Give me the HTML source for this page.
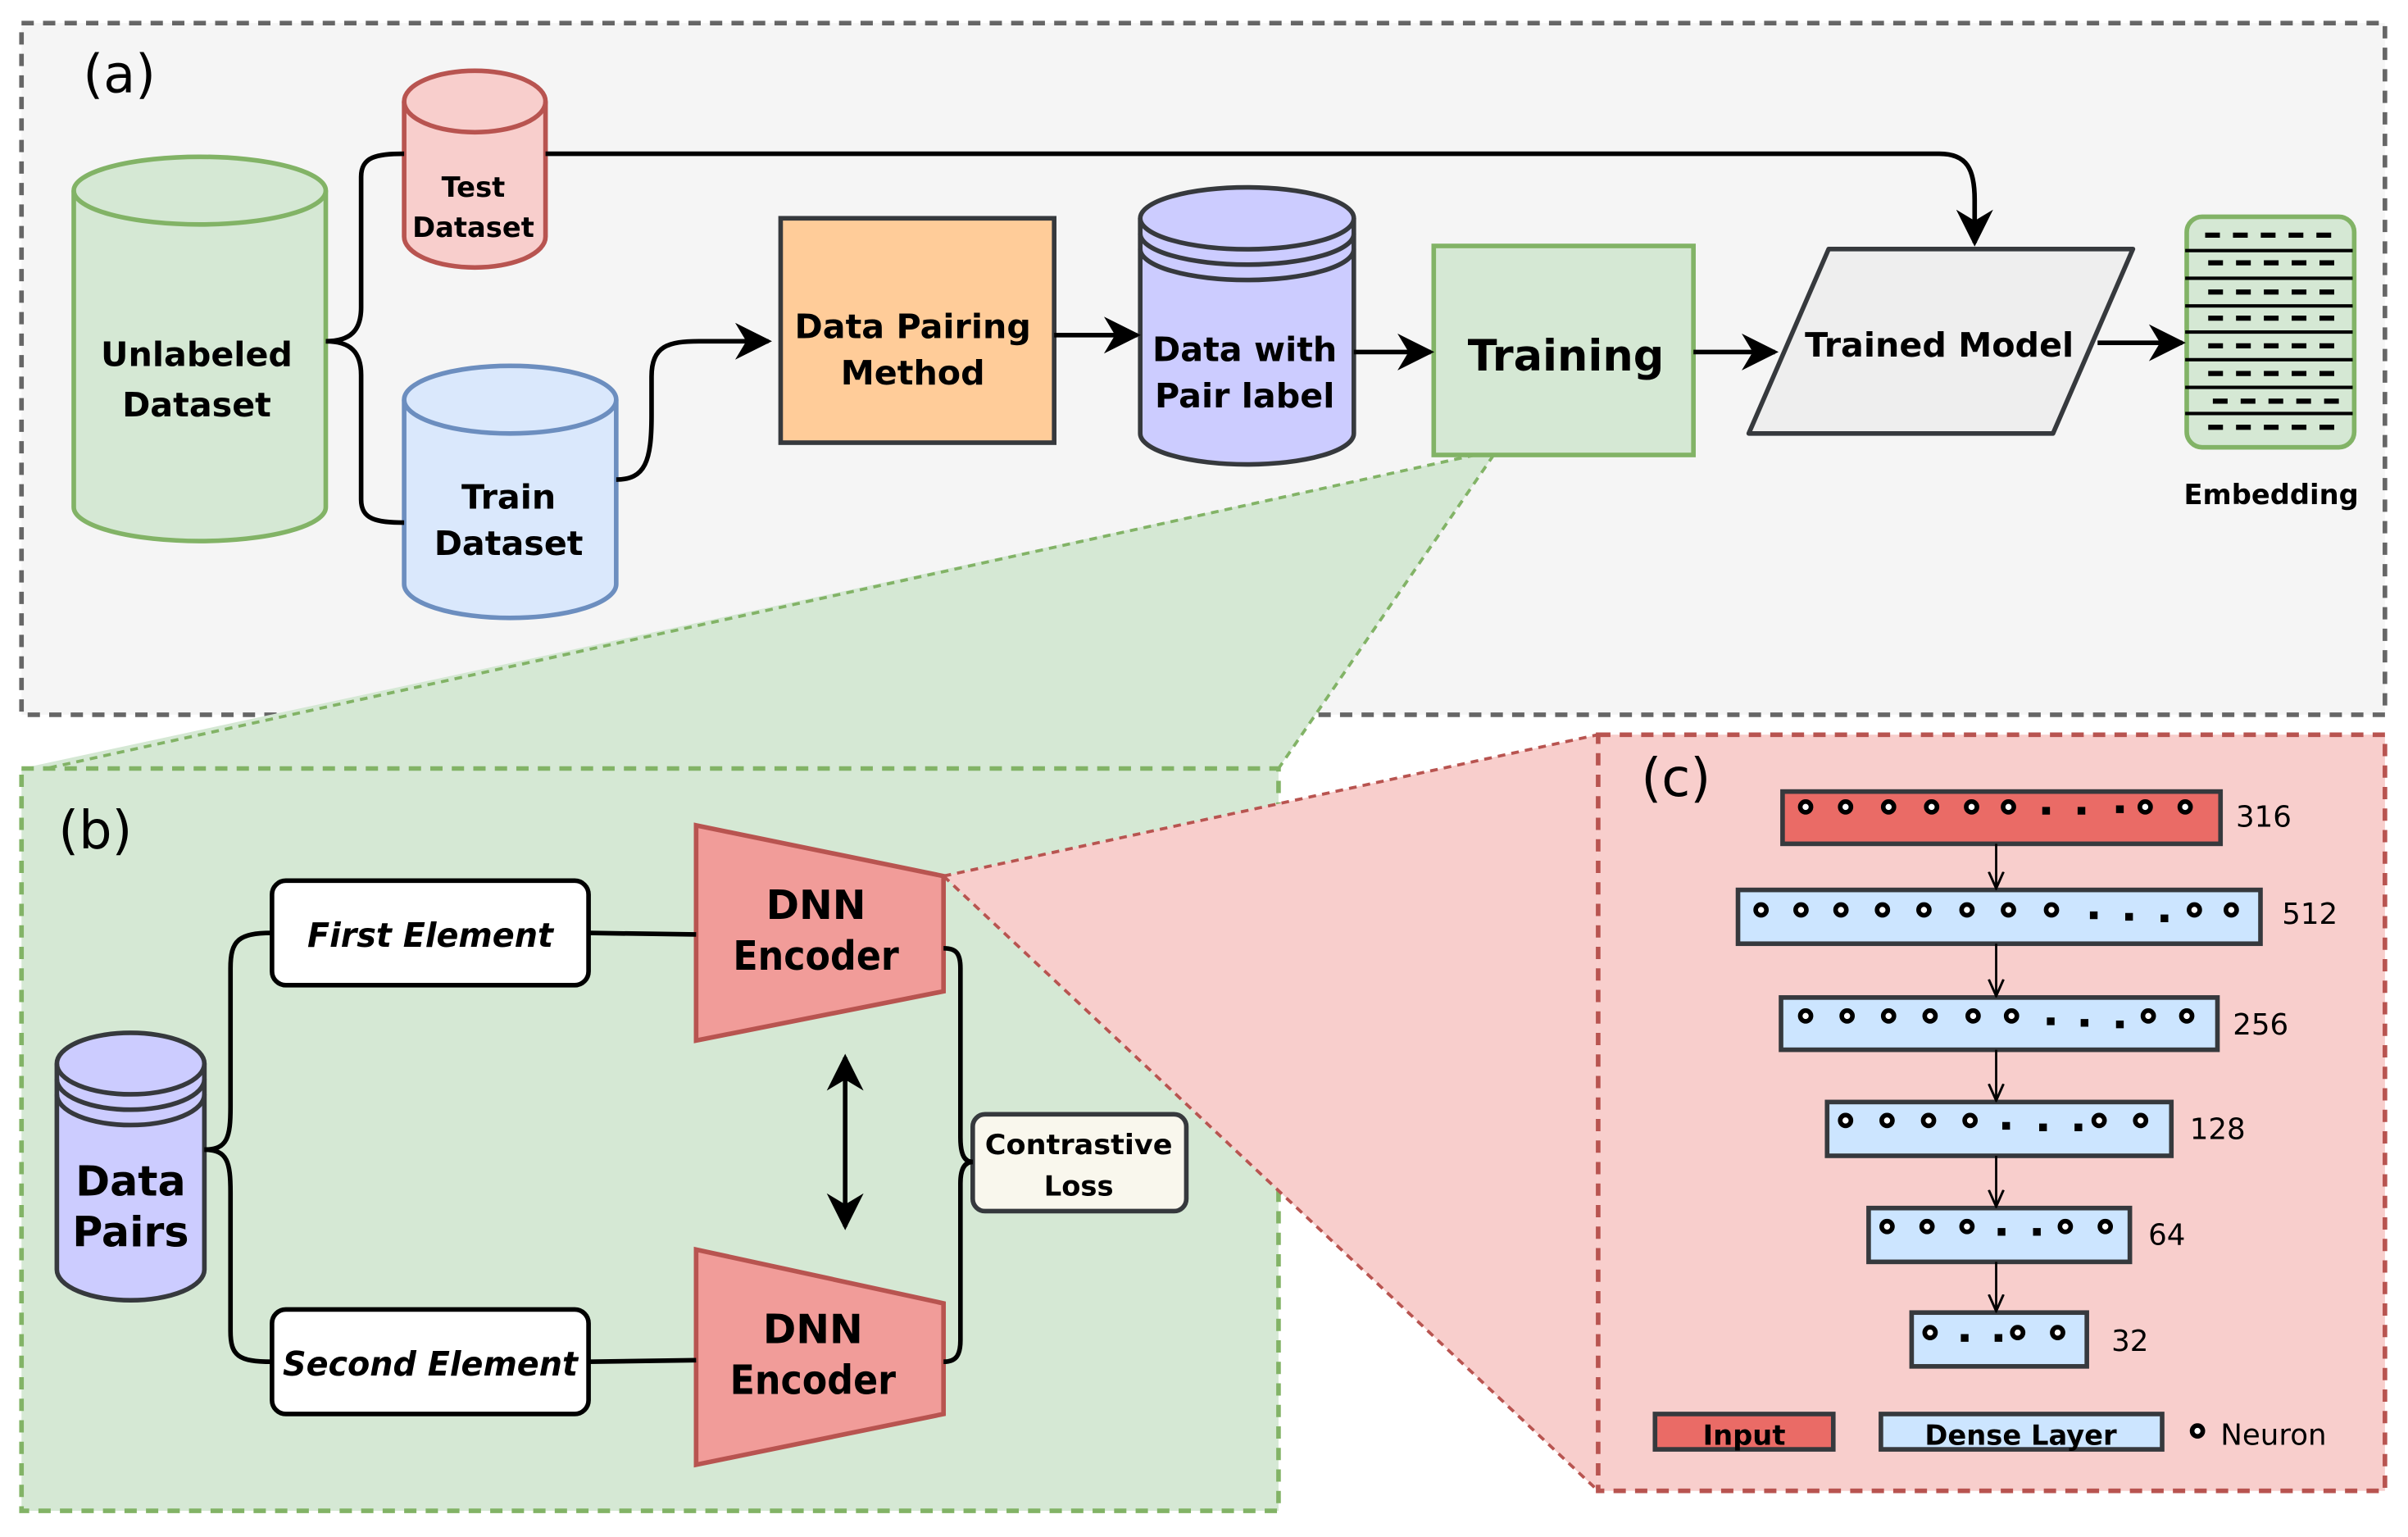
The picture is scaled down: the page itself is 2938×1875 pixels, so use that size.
<!DOCTYPE html>
<html><head><meta charset="utf-8"><style>html,body{margin:0;padding:0;background:#fff}svg{display:block}text{font-family:"DejaVu Sans","Liberation Sans",sans-serif}</style></head><body>
<svg width="2938" height="1875" viewBox="0 0 1567 1000" xmlns="http://www.w3.org/2000/svg">
<defs>
<marker id="ahb" viewBox="0 0 10 10" markerWidth="28" markerHeight="24" refX="9" refY="5" orient="auto-start-reverse" markerUnits="userSpaceOnUse"><path d="M0,0 L10,5 L0,10 L3,5z" fill="#000"/></marker>
<marker id="ao" viewBox="0 0 10 10" markerWidth="12" markerHeight="12" refX="9" refY="5" orient="auto" markerUnits="userSpaceOnUse"><path d="M0,1 L9,5 L0,9" fill="none" stroke="#000" stroke-width="1.3"/></marker>
</defs>
<rect x="14" y="15" width="1538" height="450" fill="#f5f5f5" stroke="#666" stroke-width="3" stroke-dasharray="8,6"/>
<text x="54" y="60" font-size="34">(a)</text>
<polygon points="960,296 972,296 832,500 14,500" fill="#d5e8d4"/>
<line x1="972" y1="296" x2="832" y2="500" stroke="#82b366" stroke-width="2" stroke-dasharray="5,4"/>
<line x1="960" y1="296" x2="30" y2="500" stroke="#82b366" stroke-width="2" stroke-dasharray="5,4"/>
<rect x="14" y="500" width="818" height="483" fill="#d5e8d4" stroke="#82b366" stroke-width="3" stroke-dasharray="8,6"/>
<polygon points="614,570 1040,478 1040,970" fill="#f8cecc"/>
<line x1="614" y1="570" x2="1040" y2="478" stroke="#b85450" stroke-width="2" stroke-dasharray="5,4"/>
<line x1="614" y1="570" x2="1040" y2="970" stroke="#b85450" stroke-width="2" stroke-dasharray="5,4"/>
<rect x="1040" y="478" width="512" height="492" fill="#f8cecc" stroke="#b85450" stroke-width="3" stroke-dasharray="8,6"/>
<text x="1068" y="518" font-size="34">(c)</text>
<text x="38" y="552" font-size="34">(b)</text>

<g stroke-width="3">
<path d="M48,124 A82,22 0 0 1 212,124 L212,330 A82,22 0 0 1 48,330 Z" fill="#d5e8d4" stroke="#82b366"/>
<path d="M48,124 A82,22 0 0 0 212,124" fill="none" stroke="#82b366"/>
<path d="M263,66 A46,20 0 0 1 355,66 L355,154 A46,20 0 0 1 263,154 Z" fill="#f8cecc" stroke="#b85450"/>
<path d="M263,66 A46,20 0 0 0 355,66" fill="none" stroke="#b85450"/>
<path d="M263,260 A69,22 0 0 1 401,260 L401,380 A69,22 0 0 1 263,380 Z" fill="#dae8fc" stroke="#6c8ebf"/>
<path d="M263,260 A69,22 0 0 0 401,260" fill="none" stroke="#6c8ebf"/>
<rect x="508" y="142" width="178" height="146" fill="#ffcc99" stroke="#36393d"/>
<path d="M742,142 A69,20 0 0 1 881,142 L881,282 A69,20 0 0 1 742,282 Z" fill="#ccccff" stroke="#36393d"/>
<path d="M742,142 A69,20 0 0 0 881,142 M742,152 A69,20 0 0 0 881,152 M742,162 A69,20 0 0 0 881,162" fill="none" stroke="#36393d"/>
<rect x="933" y="160" width="169" height="136" fill="#d5e8d4" stroke="#82b366"/>
<polygon points="1190,162 1388,162 1336,282 1138,282" fill="#eeeeee" stroke="#36393d" stroke-linejoin="round"/>
<rect x="1423" y="141" width="109" height="150" rx="10" fill="#d5e8d4" stroke="#82b366"/>
</g>
<g stroke="#000" stroke-width="2.2">
<line x1="1422" y1="163" x2="1531" y2="163"/><line x1="1422" y1="181" x2="1531" y2="181"/><line x1="1422" y1="199" x2="1531" y2="199"/><line x1="1422" y1="216" x2="1531" y2="216"/><line x1="1422" y1="234" x2="1531" y2="234"/><line x1="1422" y1="252" x2="1531" y2="252"/><line x1="1422" y1="269" x2="1531" y2="269"/>
</g>
<g stroke="#000" stroke-width="3.3" stroke-dasharray="9.6,8.5">
<line x1="1435" y1="153" x2="1517" y2="153"/><line x1="1437" y1="171" x2="1519" y2="171"/><line x1="1437" y1="190" x2="1519" y2="190"/><line x1="1437" y1="207" x2="1519" y2="207"/><line x1="1437" y1="225" x2="1519" y2="225"/><line x1="1437" y1="243" x2="1519" y2="243"/><line x1="1440" y1="261" x2="1522" y2="261"/><line x1="1437" y1="278" x2="1519" y2="278"/>
</g>
<g font-weight="bold" text-anchor="middle" fill="#000">
<text x="128" y="238" font-size="22">Unlabeled</text><text x="128" y="271" font-size="22">Dataset</text>
<text x="308" y="128" font-size="18">Test</text><text x="308" y="154" font-size="18">Dataset</text>
<text x="331" y="331" font-size="22">Train</text><text x="331" y="361" font-size="22">Dataset</text>
<text x="594" y="220" font-size="22">Data Pairing</text><text x="594" y="250" font-size="22">Method</text>
<text x="810" y="235" font-size="22">Data with</text><text x="810" y="265" font-size="22">Pair label</text>
<text x="1019" y="241" font-size="28">Training</text>
<text x="1262" y="232" font-size="22">Trained Model</text>
<text x="1478" y="328" font-size="18">Embedding</text>
</g>
<g fill="none" stroke="#000" stroke-width="3">
<path d="M212,222 C228,222 235,215 235,200 L235,115 C235,102 245,100 263,100"/>
<path d="M212,222 C228,222 235,229 235,244 L235,325 C235,338 245,340 263,340"/>
<path d="M355,100 L1262,100 C1280,100 1285,110 1285,130 L1285,158" marker-end="url(#ahb)"/>
<path d="M401,312 C420,312 424,300 424,270 L424,245 C424,225 435,222 455,222 L500,222" marker-end="url(#ahb)"/>
<line x1="686" y1="218" x2="740" y2="218" marker-end="url(#ahb)"/>
<line x1="881" y1="229" x2="931" y2="229" marker-end="url(#ahb)"/>
<line x1="1102" y1="229" x2="1155" y2="229" marker-end="url(#ahb)"/>
<line x1="1365" y1="223" x2="1420" y2="223" marker-end="url(#ahb)"/>
</g>
<g stroke-width="3">
<path d="M37,692 A48,20 0 0 1 133,692 L133,826 A48,20 0 0 1 37,826 Z" fill="#ccccff" stroke="#36393d"/>
<path d="M37,692 A48,20 0 0 0 133,692 M37,702 A48,20 0 0 0 133,702 M37,712 A48,20 0 0 0 133,712" fill="none" stroke="#36393d"/>
<rect x="177" y="573" width="206" height="68" rx="9" fill="#fff" stroke="#000"/>
<rect x="177" y="852" width="206" height="68" rx="9" fill="#fff" stroke="#000"/>
<polygon points="453,537 614,570 614,645 453,677" fill="#f19c99" stroke="#b85450"/>
<polygon points="453,813 614,848 614,920 453,953" fill="#f19c99" stroke="#b85450"/>
<rect x="633" y="725" width="139" height="63" rx="8" fill="#f9f7ed" stroke="#36393d"/>
</g>
<g fill="none" stroke="#000" stroke-width="3">
<path d="M133,748 C148,748 150,740 150,720 L150,630 C150,612 155,607 177,607"/>
<path d="M133,748 C148,748 150,756 150,776 L150,866 C150,882 155,886 177,886"/>
<line x1="383" y1="607" x2="453" y2="608"/>
<line x1="383" y1="886" x2="453" y2="885"/>
<path d="M614,617 C622,617 625,620 625,630 L625,740 C625,752 628,756 633,756"/>
<path d="M614,886 C622,886 625,882 625,872 L625,770 C625,760 628,756 633,756"/>
<line x1="550" y1="688" x2="550" y2="798" marker-start="url(#ahb)" marker-end="url(#ahb)"/>
</g>
<g font-weight="bold" text-anchor="middle">
<text x="280" y="616" font-size="22" font-style="italic" textLength="160" lengthAdjust="spacingAndGlyphs">First Element</text>
<text x="280" y="895" font-size="22" font-style="italic" textLength="192" lengthAdjust="spacingAndGlyphs">Second Element</text>
<text x="85" y="778" font-size="27">Data</text><text x="85" y="811" font-size="27">Pairs</text>
<text x="531" y="598" font-size="26">DNN</text><text x="531" y="631" font-size="26" textLength="108" lengthAdjust="spacingAndGlyphs">Encoder</text>
<text x="529" y="874" font-size="26">DNN</text><text x="529" y="907" font-size="26" textLength="108" lengthAdjust="spacingAndGlyphs">Encoder</text>
<text x="702" y="751" font-size="18" textLength="122" lengthAdjust="spacingAndGlyphs">Contrastive</text><text x="702" y="778" font-size="18">Loss</text>
</g>
<g stroke="#36393d" stroke-width="3">
<rect x="1160" y="515" width="285" height="34" fill="#ea6b66"/>
<rect x="1131" y="579" width="340" height="35" fill="#cce5ff"/>
<rect x="1159" y="649" width="284" height="34" fill="#cce5ff"/>
<rect x="1189" y="717" width="224" height="35" fill="#cce5ff"/>
<rect x="1216" y="786" width="170" height="35" fill="#cce5ff"/>
<rect x="1244" y="854" width="114" height="35" fill="#cce5ff"/>
<rect x="1077" y="920" width="116" height="23" fill="#ea6b66"/>
<rect x="1224" y="920" width="183" height="23" fill="#cce5ff"/>
</g>
<g stroke="#000" stroke-width="1.5" fill="none">
<line x1="1299" y1="549" x2="1299" y2="578" marker-end="url(#ao)"/>
<line x1="1299" y1="614" x2="1299" y2="648" marker-end="url(#ao)"/>
<line x1="1299" y1="683" x2="1299" y2="716" marker-end="url(#ao)"/>
<line x1="1299" y1="752" x2="1299" y2="785" marker-end="url(#ao)"/>
<line x1="1299" y1="821" x2="1299" y2="853" marker-end="url(#ao)"/>
</g>
<g fill="#fff" stroke="#000" stroke-width="3">
<circle cx="1175" cy="525" r="3.5"/><circle cx="1201" cy="525" r="3.5"/><circle cx="1229" cy="525" r="3.5"/><circle cx="1257" cy="525" r="3.5"/><circle cx="1283" cy="525" r="3.5"/><circle cx="1307" cy="525" r="3.5"/><circle cx="1396" cy="525" r="3.5"/><circle cx="1422" cy="525" r="3.5"/>
<circle cx="1146" cy="592" r="3.5"/><circle cx="1172" cy="592" r="3.5"/><circle cx="1198" cy="592" r="3.5"/><circle cx="1225" cy="592" r="3.5"/><circle cx="1252" cy="592" r="3.5"/><circle cx="1280" cy="592" r="3.5"/><circle cx="1307" cy="592" r="3.5"/><circle cx="1335" cy="592" r="3.5"/><circle cx="1428" cy="592" r="3.5"/><circle cx="1452" cy="592" r="3.5"/>
<circle cx="1175" cy="661" r="3.5"/><circle cx="1202" cy="661" r="3.5"/><circle cx="1229" cy="661" r="3.5"/><circle cx="1256" cy="661" r="3.5"/><circle cx="1284" cy="661" r="3.5"/><circle cx="1309" cy="661" r="3.5"/><circle cx="1398" cy="661" r="3.5"/><circle cx="1423" cy="661" r="3.5"/>
<circle cx="1201" cy="729" r="3.5"/><circle cx="1228" cy="729" r="3.5"/><circle cx="1255" cy="729" r="3.5"/><circle cx="1282" cy="729" r="3.5"/><circle cx="1366" cy="729" r="3.5"/><circle cx="1393" cy="729" r="3.5"/>
<circle cx="1228" cy="798" r="3.5"/><circle cx="1254" cy="798" r="3.5"/><circle cx="1280" cy="798" r="3.5"/><circle cx="1344" cy="798" r="3.5"/><circle cx="1370" cy="798" r="3.5"/>
<circle cx="1256" cy="867" r="3.5"/><circle cx="1313" cy="867" r="3.5"/><circle cx="1339" cy="867" r="3.5"/>
<circle cx="1430" cy="931" r="3.5"/>
</g>
<g fill="#000">
<rect x="1329" y="525" width="5" height="5"/><rect x="1352" y="525" width="5" height="5"/><rect x="1377" y="524" width="5" height="5"/>
<rect x="1360" y="593" width="5" height="5"/><rect x="1383" y="594" width="5" height="5"/><rect x="1406" y="595" width="5" height="5"/>
<rect x="1332" y="662" width="5" height="5"/><rect x="1354" y="663" width="5" height="5"/><rect x="1377" y="664" width="5" height="5"/>
<rect x="1303" y="730" width="5" height="5"/><rect x="1327" y="731" width="5" height="5"/><rect x="1350" y="731" width="5" height="5"/>
<rect x="1300" y="799" width="5" height="5"/><rect x="1323" y="799" width="5" height="5"/>
<rect x="1276" y="868" width="5" height="5"/><rect x="1298" y="868" width="5" height="5"/>
</g>
<g font-size="19" fill="#000">
<text x="1455" y="538">316</text><text x="1485" y="601">512</text><text x="1453" y="673">256</text>
<text x="1425" y="741">128</text><text x="1398" y="810">64</text><text x="1374" y="879">32</text>
<text x="1445" y="940">Neuron</text>
</g>
<g font-weight="bold" font-size="18" text-anchor="middle">
<text x="1135" y="940">Input</text><text x="1315" y="940">Dense Layer</text>
</g>
</svg>
</body></html>
